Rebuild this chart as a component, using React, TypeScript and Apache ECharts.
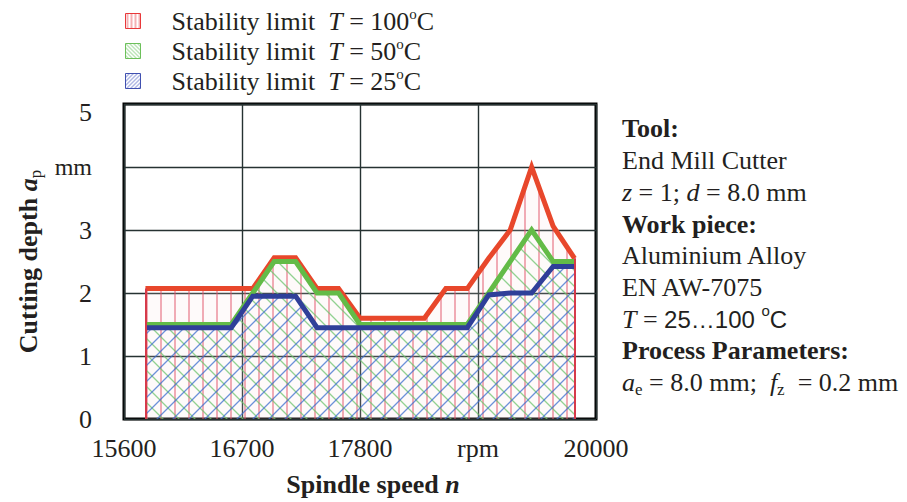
import React, { useEffect, useRef } from 'react';
import * as echarts from 'echarts';

// ---- data ----
const spindleRpm = [15800, 16000, 16200, 16400, 16600, 16800, 17000, 17200, 17400, 17600, 17800, 18000, 18200, 18400, 18600, 18800, 19000, 19200, 19400, 19600, 19800];
const limitT100 = [2.07, 2.07, 2.07, 2.07, 2.07, 2.07, 2.56, 2.56, 2.07, 2.07, 1.6, 1.6, 1.6, 1.6, 2.07, 2.07, 2.55, 3.0, 4.0, 3.06, 2.55];
const limitT50 = [1.5, 1.5, 1.5, 1.5, 1.5, 2.0, 2.5, 2.5, 2.0, 2.0, 1.5, 1.5, 1.5, 1.5, 1.5, 1.5, 2.0, 2.5, 3.0, 2.5, 2.5];
const limitT25 = [1.45, 1.45, 1.45, 1.45, 1.45, 1.95, 1.95, 1.95, 1.45, 1.45, 1.45, 1.45, 1.45, 1.45, 1.45, 1.45, 1.97, 2.0, 2.0, 2.42, 2.42];
const temperatures = ['100', '50', '25'];
const xTickLabels = ['15600', '16700', '17800', 'rpm', '20000'];
const yTickLabels = ['0', '1', '2', '3', 'mm', '5'];
const X_FIRST = 15600;
const X_STEP = 1100;
const X_LAST = 20000;

const SERIF = 'Liberation Serif, Times New Roman, serif';
const SANS = 'Liberation Sans, Arial, sans-serif';
const TXT = '#231f20';
const RED = '#e8472b';
const GREEN = '#63bb47';
const BLUE = '#2f3f99';

function hatch(kind: 'v' | 'back' | 'fwd', color: string, size: number, lw: number, bg?: string) {
  const c = document.createElement('canvas');
  c.width = size;
  c.height = size;
  const ctx = c.getContext('2d')!;
  if (bg) {
    ctx.fillStyle = bg;
    ctx.fillRect(0, 0, size, size);
  }
  ctx.strokeStyle = color;
  ctx.lineWidth = lw;
  ctx.beginPath();
  if (kind === 'v') {
    ctx.moveTo(size / 2, 0);
    ctx.lineTo(size / 2, size);
  } else if (kind === 'back') {
    ctx.moveTo(-1, -1); ctx.lineTo(size + 1, size + 1);
    ctx.moveTo(-1, size - 1); ctx.lineTo(1, size + 1);
    ctx.moveTo(size - 1, -1); ctx.lineTo(size + 1, 1);
  } else {
    ctx.moveTo(-1, size + 1); ctx.lineTo(size + 1, -1);
    ctx.moveTo(-1, 1); ctx.lineTo(1, -1);
    ctx.moveTo(size - 1, size + 1); ctx.lineTo(size + 1, size - 1);
  }
  ctx.stroke();
  return { image: c, repeat: 'repeat', imageWidth: size, imageHeight: size } as any;
}

export default function App() {
  const ref = useRef<HTMLDivElement>(null);
  useEffect(() => {
    if (!ref.current) return;
    const chart = echarts.init(ref.current, null, { renderer: 'svg' });

    const redFill = hatch('v', 'rgba(225,85,105,0.6)', 14, 1.6, 'rgba(245,220,220,0.15)');
    const greenFill = hatch('back', 'rgba(110,195,110,0.75)', 16, 1.3);
    const blueFill = hatch('fwd', 'rgba(60,110,205,0.75)', 16, 1.3);
    const redIcon = hatch('v', 'rgba(230,60,70,0.8)', 4, 1);
    const greenIcon = hatch('back', 'rgba(90,190,80,0.9)', 4, 0.9);
    const blueIcon = hatch('fwd', 'rgba(60,80,190,0.9)', 4, 0.9);

    const names = temperatures.map((t) => `Stability limit T = ${t}°C`);
    const toXY = (vals: number[]) => spindleRpm.map((r, i) => [r - X_FIRST, vals[i]]);
    const lastIdx = spindleRpm.length - 1;

    const base = { fontFamily: SERIF, fontSize: 26, color: TXT, lineHeight: 30 };
    const legendRich = {
      t: { ...base },
      i: { ...base, fontStyle: 'italic' },
      s: { fontFamily: SERIF, fontSize: 15, color: TXT, lineHeight: 16, verticalAlign: 'top' },
    };

    const annRich: any = {
      t: { fontFamily: SERIF, fontSize: 26, color: TXT, lineHeight: 31.7 },
      b: { fontFamily: SERIF, fontSize: 26, color: TXT, lineHeight: 31.7, fontWeight: 'bold' },
      i: { fontFamily: SERIF, fontSize: 26, color: TXT, lineHeight: 31.7, fontStyle: 'italic' },
      sans: { fontFamily: SANS, fontSize: 24, color: TXT, lineHeight: 31.7 },
      sup: { fontFamily: SANS, fontSize: 15, color: TXT, lineHeight: 18, verticalAlign: 'top' },
      sub: { fontFamily: SERIF, fontSize: 17, color: TXT, lineHeight: 13, verticalAlign: 'bottom' },
    };
    const annText = [
      '{b|Tool:}',
      '{t|End Mill Cutter}',
      '{i|z}{t| = 1; }{i|d}{t| = 8.0 mm}',
      '{b|Work piece:}',
      '{t|Aluminium Alloy}',
      '{t|EN AW-7075}',
      '{i|T}{t| = }{sans|25…100 }{sup|o}{sans|C}',
      '{b|Process Parameters:}',
      '{i|a}{sub|e}{t| = 8.0 mm;  }{i|f}{sub|z}{t|  = 0.2 mm}',
    ].join('\n');

    const seriesDef = [
      { vals: limitT100, color: RED, fill: redFill },
      { vals: limitT50, color: GREEN, fill: greenFill },
      { vals: limitT25, color: BLUE, fill: blueFill },
    ];

    chart.setOption({
      animation: false,
      legend: {
        orient: 'vertical',
        left: 125,
        top: 6,
        padding: 0,
        itemWidth: 15,
        itemHeight: 15,
        itemGap: 2,
        selectedMode: false,
        data: [
          { name: names[0], icon: 'rect', itemStyle: { color: redIcon, borderColor: '#e8383a', borderWidth: 1 } },
          { name: names[1], icon: 'rect', itemStyle: { color: greenIcon, borderColor: '#6cc05a', borderWidth: 1 } },
          { name: names[2], icon: 'rect', itemStyle: { color: blueIcon, borderColor: '#4050b0', borderWidth: 1 } },
        ],
        formatter: (name: string) => {
          const k = names.indexOf(name);
          return `{t|Stability limit  }{i|T}{t| = ${temperatures[k]}}{s|o}{t|C}`;
        },
        textStyle: { padding: [0, 0, 0, 26], rich: legendRich },
      },
      grid: {
        left: 124,
        top: 104,
        width: 472,
        height: 324,
        show: true,
        backgroundColor: '#ffffff',
        borderColor: '#000',
        borderWidth: 3,
      },
      xAxis: {
        type: 'value',
        min: 0,
        max: X_LAST - X_FIRST,
        interval: X_STEP,
        axisLine: { show: false },
        axisTick: { show: false },
        splitLine: { show: true, lineStyle: { color: '#263232', width: 1.4 } },
        axisLabel: {
          margin: 16,
          fontFamily: SERIF,
          fontSize: 26,
          color: TXT,
          formatter: (v: number) => xTickLabels[Math.round(v / X_STEP)] ?? '',
        },
        name: '{b|Spindle speed }{bi|n}',
        nameLocation: 'middle',
        nameGap: 52,
        nameTextStyle: {
          padding: [0, 0, 0, 26],
          rich: {
            b: { fontFamily: SERIF, fontSize: 26, fontWeight: 'bold', color: TXT },
            bi: { fontFamily: SERIF, fontSize: 26, fontWeight: 'bold', fontStyle: 'italic', color: TXT },
          },
        },
      },
      yAxis: {
        type: 'value',
        min: 0,
        max: 5,
        interval: 1,
        axisLine: { show: false },
        axisTick: { show: false },
        splitLine: { show: true, lineStyle: { color: '#263232', width: 1.4 } },
        axisLabel: {
          margin: 32,
          fontFamily: SERIF,
          fontSize: 26,
          color: TXT,
          formatter: (v: number) => {
            const idx = Math.round(v);
            const s = yTickLabels[idx] ?? '';
            if (s === 'mm') return '{mm|mm}';
            if (idx === yTickLabels.length - 1) return `{top|${s}}`;
            return s;
          },
          rich: {
            mm: { fontFamily: SERIF, fontSize: 24, color: TXT },
            top: { fontFamily: SERIF, fontSize: 26, color: TXT, padding: [16, 0, 0, 0] },
          },
        },
        name: '{b|Cutting depth }{bi|a}{sub|p}',
        nameLocation: 'middle',
        nameRotate: 90,
        nameGap: 80,
        nameTextStyle: {
          rich: {
            b: { fontFamily: SERIF, fontSize: 26, fontWeight: 'bold', color: TXT, lineHeight: 30 },
            bi: { fontFamily: SERIF, fontSize: 26, fontWeight: 'bold', fontStyle: 'italic', color: TXT, lineHeight: 30 },
            sub: { fontFamily: SERIF, fontSize: 17, color: TXT, lineHeight: 12, verticalAlign: 'bottom' },
          },
        },
      },
      series: seriesDef.map((s, k) => ({
        name: names[k],
        type: 'line',
        data: toXY(s.vals),
        symbol: 'none',
        showSymbol: false,
        z: 2 + k,
        lineStyle: { color: s.color, width: 5, join: 'miter' },
        itemStyle: { color: s.color },
        areaStyle: { color: s.fill, opacity: 1 },
        markLine:
          k === 0
            ? {
                silent: true,
                symbol: 'none',
                label: { show: false },
                lineStyle: { color: '#d63a4a', width: 2, type: 'solid' },
                data: [
                  [{ coord: [spindleRpm[0] - X_FIRST, 0] }, { coord: [spindleRpm[0] - X_FIRST, limitT100[0]] }],
                  [{ coord: [spindleRpm[lastIdx] - X_FIRST, 0] }, { coord: [spindleRpm[lastIdx] - X_FIRST, limitT100[lastIdx]] }],
                ],
              }
            : undefined,
      })),
      graphic: [
        {
          type: 'text',
          left: 622,
          top: 116,
          style: { text: annText, rich: annRich, fill: TXT },
        },
      ],
    });
    return () => chart.dispose();
  }, []);
  return <div ref={ref} style={{ position: 'absolute', left: 0, top: 0, width: 907, height: 502 }} />;
}
